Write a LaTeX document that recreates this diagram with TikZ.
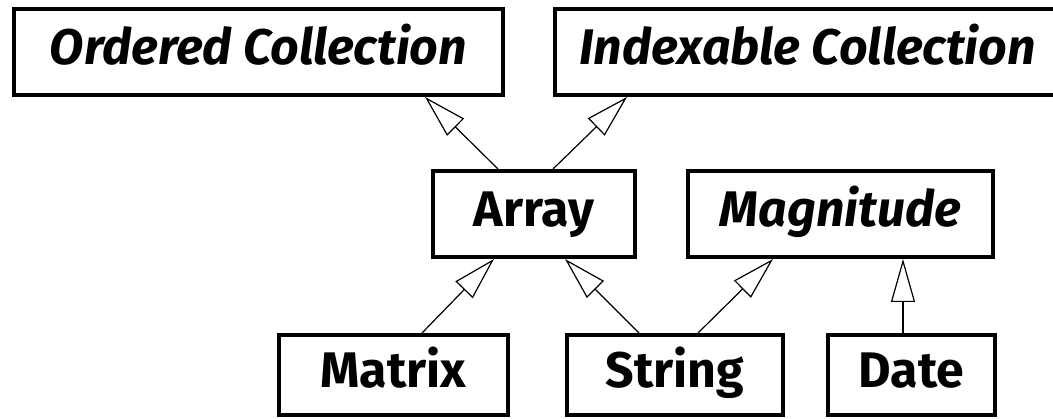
\documentclass[tikz,border=0pt]{standalone}
\usepackage{fontspec}
\newfontfamily\classfont{Fira Sans}
\usetikzlibrary{arrows.meta}

\begin{document}
\begin{tikzpicture}[
  x=1pt, y=-1pt,
  classbox/.style={draw, line width=4pt, rectangle, inner sep=0pt,
    minimum height=86pt, text height=33pt, text depth=8pt,
    font=\classfont\bfseries\fontsize{50}{50}\selectfont},
  leafbox/.style={classbox, minimum height=80pt},
  abstract/.style={font=\classfont\bfseries\itshape\fontsize{50}{50}\selectfont},
  inherits/.style={line width=1.2pt,
    -{Triangle[open, length=43pt, width=24pt, line width=1.2pt]}}
]
\useasboundingbox (0,0) rectangle (1053,419);

% abstract superclasses
\node[classbox, abstract, minimum width=489pt] (ordered) at (258.5,52) {Ordered Collection};
\node[classbox, abstract, minimum width=505pt] (indexable) at (807.5,52) {Indexable Collection};

% middle row
\node[classbox, minimum width=202pt] (array) at (534,214) {Array};
\node[classbox, abstract, minimum width=305pt] (magnitude) at (840.5,214) {Magnitude};

% concrete classes
\node[leafbox, minimum width=229pt] (matrix) at (393.5,375) {Matrix};
\node[leafbox, minimum width=216pt] (string) at (675,375) {String};
\node[leafbox, minimum width=167pt] (date) at (911.5,375) {Date};

% generalisation arrows
\draw[inherits] ([xshift=-36pt]array.north) -- ([xshift=166.5pt]ordered.south);
\draw[inherits] ([xshift=19pt]array.north) -- ([xshift=-180.5pt]indexable.south);
\draw[inherits] ([xshift=28.5pt]matrix.north) -- ([xshift=-40pt]array.south);
\draw[inherits] ([xshift=-36pt]string.north) -- ([xshift=31pt]array.south);
\draw[inherits] ([xshift=23pt]string.north) -- ([xshift=-67.5pt]magnitude.south);
\draw[inherits] ([xshift=-8.5pt]date.north) -- ([xshift=62.5pt]magnitude.south);
\end{tikzpicture}
\end{document}
